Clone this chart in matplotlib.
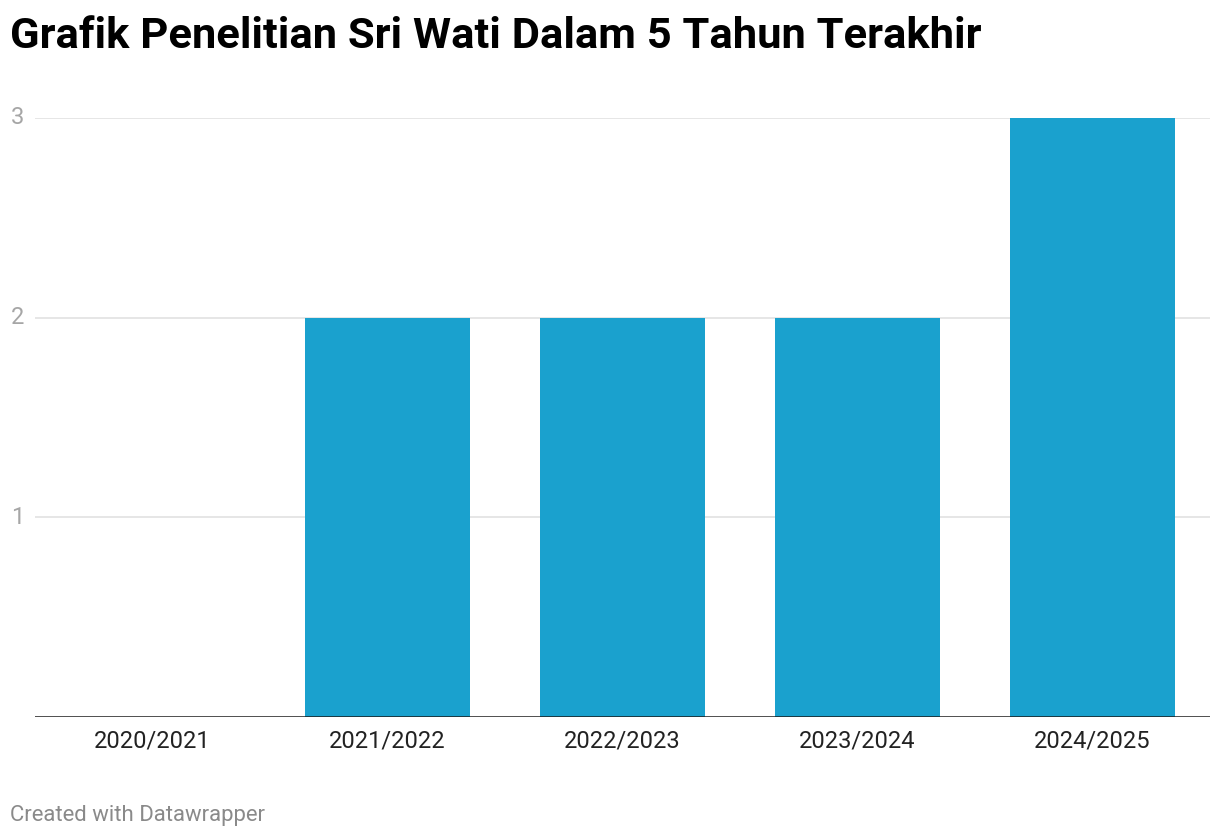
"""
Grafik penelitian per tahun akademik
"""

import matplotlib.pyplot as plt

plt.rcParams["font.family"] = ["Roboto", "DejaVu Sans"]

categories = ["2020/2021", "2021/2022", "2022/2023", "2023/2024", "2024/2025"]
values = [0, 2, 2, 2, 3]
y_ticks = [1, 2, 3]

W, H = 1220, 838
fig = plt.figure(figsize=(W / 100, H / 100), dpi=100)

# axes placed in pixel terms
left, right, top, bottom = 35, 1210, 118, 717
ax = fig.add_axes([left / W, 1 - bottom / H, (right - left) / W, (bottom - top) / H])

x = range(len(categories))
ax.bar(x, values, width=0.70, color="#1aa1ce", zorder=2)
ax.set_xlim(-0.5, len(categories) - 0.5)
ax.set_ylim(0, 3)

for yv in y_ticks:
    ax.axhline(yv, color="#e2e2e2", lw=1.2, zorder=1)
ax.axhline(0, color="#1a1a1a", lw=1.8, zorder=3)

for s in ax.spines.values():
    s.set_visible(False)

ax.set_xticks(list(x))
ax.set_xticklabels(categories, fontsize=17, color="#222222")
ax.tick_params(axis="x", length=0, pad=9)
ax.set_yticks([])

# y labels sit at the figure's left margin
for yv in y_ticks:
    y_px = bottom - (bottom - top) * yv / 3
    fig.text(11 / W, 1 - y_px / H, str(yv), fontsize=17, color="#a6a6a6",
             ha="left", va="center")

fig.text(10 / W, 1 - 36 / H, "Grafik Penelitian Sri Wati Dalam 5 Tahun Terakhir",
         fontsize=31.3, fontweight="bold", color="#000000", ha="left", va="center")
fig.text(10 / W, 1 - 815 / H, "Created with Datawrapper",
         fontsize=15.9, color="#8a8a8a", ha="left", va="center")

fig.savefig("out.png", dpi=100)
plt.close(fig)
